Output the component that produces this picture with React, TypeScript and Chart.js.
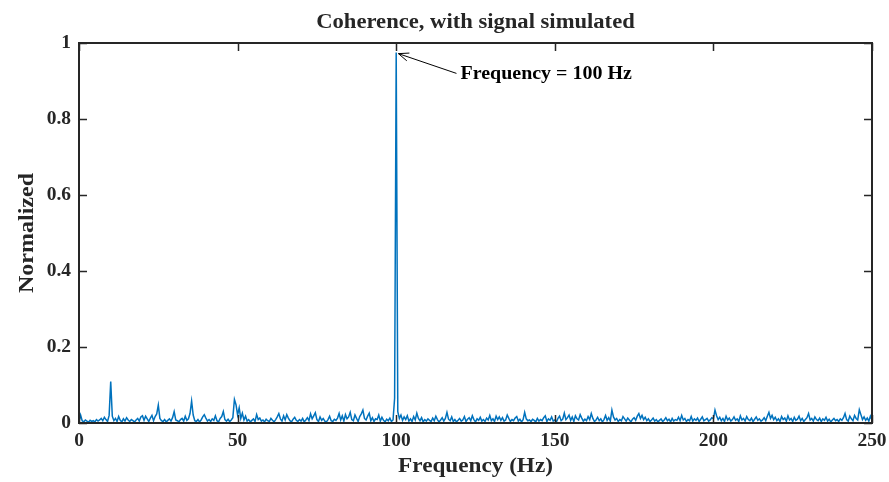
import React, { useEffect, useRef } from "react";
import { Chart, registerables } from "chart.js";

Chart.register(...registerables);

const TITLE = "Coherence, with signal simulated";
const X_LABEL = "Frequency (Hz)";
const Y_LABEL = "Normalized";
const X_TICKS = [0, 50, 100, 150, 200, 250];
const X_TICK_LABELS = ["0", "50", "100", "150", "200", "250"];
const Y_TICKS = [0, 0.2, 0.4, 0.6, 0.8, 1];
const Y_TICK_LABELS = ["0", "0.2", "0.4", "0.6", "0.8", "1"];
const FREQ_START = 0;
const FREQ_STEP = 0.5;

// coherence, one value per 0.5 Hz, 0 .. 250 Hz (rows of 10 Hz)
const COHERENCE = [
  0.004, 0.021, 0.006, 0.003, 0.008, 0.005, 0.002, 0.007, 0.004, 0.006, 0.003, 0.009, 0.005, 0.008, 0.012, 0.006, 0.015, 0.009, 0.004, 0.02,
  0.109, 0.018, 0.006, 0.012, 0.004, 0.017, 0.007, 0.003, 0.011, 0.005, 0.014, 0.008, 0.004, 0.009, 0.006, 0.003, 0.008, 0.012, 0.005, 0.016,
  0.019, 0.007, 0.018, 0.011, 0.004, 0.013, 0.02, 0.006, 0.017, 0.024, 0.047, 0.012, 0.006, 0.004, 0.009, 0.003, 0.007, 0.011, 0.005, 0.014,
  0.03, 0.008, 0.006, 0.003, 0.009, 0.012, 0.005, 0.018, 0.007, 0.011, 0.025, 0.058, 0.021, 0.006, 0.004, 0.009, 0.003, 0.008, 0.016, 0.022,
  0.013, 0.005, 0.009, 0.004, 0.011, 0.007, 0.019, 0.006, 0.003, 0.012, 0.017, 0.03, 0.009, 0.005, 0.01, 0.004, 0.008, 0.014, 0.062, 0.048,
  0.021, 0.04, 0.012, 0.026, 0.008, 0.018, 0.005, 0.009, 0.003, 0.007, 0.011, 0.004, 0.022, 0.009, 0.013, 0.005, 0.008, 0.003, 0.01, 0.006,
  0.004, 0.012, 0.007, 0.003, 0.009, 0.016, 0.025, 0.011, 0.005, 0.019, 0.008, 0.022, 0.013, 0.006, 0.003, 0.01, 0.015, 0.007, 0.004, 0.009,
  0.005, 0.012, 0.003, 0.008, 0.014, 0.006, 0.024, 0.011, 0.019, 0.027, 0.009, 0.004, 0.016, 0.007, 0.012, 0.005, 0.003, 0.009, 0.018, 0.006,
  0.004, 0.01, 0.007, 0.013, 0.025, 0.008, 0.019, 0.005, 0.022, 0.011, 0.016, 0.028, 0.009, 0.006, 0.021, 0.012, 0.004, 0.017, 0.024, 0.034,
  0.012, 0.008, 0.018, 0.026, 0.006, 0.014, 0.004, 0.011, 0.009, 0.021, 0.005, 0.015, 0.007, 0.003, 0.01, 0.006, 0.013, 0.004, 0.008, 0.065,
  0.975, 0.03, 0.012, 0.021, 0.007, 0.016, 0.009, 0.019, 0.005, 0.011, 0.004, 0.017, 0.008, 0.026, 0.012, 0.006, 0.014, 0.003, 0.009, 0.005,
  0.011, 0.007, 0.004, 0.013, 0.006, 0.018, 0.009, 0.003, 0.008, 0.014, 0.005, 0.012, 0.028, 0.01, 0.006, 0.016, 0.004, 0.009, 0.003, 0.007,
  0.012, 0.005, 0.008, 0.017, 0.004, 0.01, 0.014, 0.006, 0.019, 0.009, 0.003, 0.011, 0.007, 0.015, 0.005, 0.009, 0.004, 0.013, 0.008, 0.02,
  0.006, 0.011, 0.004, 0.018, 0.009, 0.016, 0.007, 0.014, 0.005, 0.008, 0.021, 0.012, 0.004, 0.009, 0.006, 0.013, 0.017, 0.005, 0.01, 0.003,
  0.009, 0.028, 0.011, 0.006, 0.008, 0.004, 0.01, 0.007, 0.003, 0.012, 0.005, 0.009, 0.006, 0.014, 0.019, 0.004, 0.011, 0.007, 0.016, 0.005,
  0.008, 0.003, 0.012, 0.018, 0.006, 0.01, 0.026, 0.009, 0.014, 0.021, 0.007, 0.016, 0.004, 0.019, 0.011, 0.008, 0.022, 0.013, 0.005, 0.01,
  0.006, 0.017, 0.009, 0.025, 0.012, 0.004, 0.008, 0.015, 0.006, 0.011, 0.003, 0.009, 0.02, 0.007, 0.014, 0.005, 0.034, 0.016, 0.008, 0.012,
  0.004, 0.009, 0.006, 0.017, 0.011, 0.005, 0.013, 0.008, 0.003, 0.01, 0.014, 0.007, 0.018, 0.025, 0.012, 0.02, 0.009, 0.015, 0.006, 0.011,
  0.004, 0.008, 0.013, 0.005, 0.009, 0.003, 0.007, 0.011, 0.004, 0.008, 0.014, 0.006, 0.01, 0.003, 0.012, 0.005, 0.009, 0.007, 0.015, 0.006,
  0.02, 0.008, 0.012, 0.004, 0.009, 0.006, 0.017, 0.005, 0.011, 0.007, 0.013, 0.004, 0.01, 0.016, 0.006, 0.009, 0.012, 0.005, 0.008, 0.014,
  0.011, 0.034, 0.019, 0.009, 0.015, 0.006, 0.012, 0.004, 0.018, 0.008, 0.013, 0.005, 0.009, 0.016, 0.007, 0.011, 0.004, 0.019, 0.008, 0.012,
  0.005, 0.017, 0.009, 0.006, 0.013, 0.004, 0.01, 0.016, 0.007, 0.011, 0.005, 0.008, 0.014, 0.006, 0.018, 0.028, 0.012, 0.02, 0.009, 0.015,
  0.006, 0.011, 0.004, 0.017, 0.009, 0.013, 0.005, 0.019, 0.008, 0.012, 0.004, 0.015, 0.007, 0.01, 0.018, 0.006, 0.012, 0.004, 0.009, 0.014,
  0.025, 0.008, 0.012, 0.005, 0.016, 0.009, 0.006, 0.013, 0.004, 0.011, 0.007, 0.015, 0.005, 0.01, 0.003, 0.008, 0.012, 0.006, 0.009, 0.004,
  0.011, 0.007, 0.014, 0.025, 0.009, 0.005, 0.018, 0.011, 0.006, 0.02, 0.012, 0.008, 0.035, 0.022, 0.009, 0.016, 0.007, 0.013, 0.005, 0.018,
  0.008,
];

const ANNOT_TEXT = "Frequency = 100 Hz";
const ANNOT_TIP = [100.7, 0.972];
const ANNOT_TAIL = [119.0, 0.92];

const FONT = '"Liberation Serif", "Times New Roman", serif';
const INK = "#262626";
const LINE_COLOR = "#0072BD";

function drawText(
  ctx: CanvasRenderingContext2D,
  text: string,
  x: number,
  y: number,
  size: number,
  stretch: number,
  align: CanvasTextAlign,
  rotate = 0
) {
  ctx.save();
  ctx.translate(x, y);
  if (rotate) ctx.rotate(rotate);
  ctx.scale(stretch, 1);
  ctx.font = `bold ${size}px ${FONT}`;
  ctx.textAlign = align;
  ctx.textBaseline = "middle";
  ctx.fillText(text, 0, 0);
  ctx.restore();
}

const framePlugin = {
  id: "matlabFrame",
  afterDraw(chart: any) {
    const { ctx, chartArea: a, scales } = chart;
    const xs = scales.x;
    const ys = scales.y;
    ctx.save();
    // box
    ctx.strokeStyle = INK;
    ctx.lineWidth = 2;
    ctx.strokeRect(a.left, a.top, a.right - a.left, a.bottom - a.top);
    // inward ticks
    ctx.lineWidth = 1.5;
    const tl = 8;
    ctx.beginPath();
    X_TICKS.forEach((v) => {
      const px = Math.round(xs.getPixelForValue(v)) + 0.5;
      ctx.moveTo(px, a.bottom);
      ctx.lineTo(px, a.bottom - tl);
      ctx.moveTo(px, a.top);
      ctx.lineTo(px, a.top + tl);
    });
    Y_TICKS.forEach((v) => {
      const py = Math.round(ys.getPixelForValue(v)) + 0.5;
      ctx.moveTo(a.left, py);
      ctx.lineTo(a.left + tl, py);
      ctx.moveTo(a.right, py);
      ctx.lineTo(a.right - tl, py);
    });
    ctx.stroke();

    ctx.fillStyle = INK;
    // tick labels
    X_TICKS.forEach((v, i) => {
      drawText(ctx, X_TICK_LABELS[i], xs.getPixelForValue(v), a.bottom + 18, 18, 1.08, "center");
    });
    Y_TICKS.forEach((v, i) => {
      drawText(ctx, Y_TICK_LABELS[i], a.left - 8, ys.getPixelForValue(v), 18, 1.08, "right");
    });

    // axis titles
    drawText(ctx, X_LABEL, (a.left + a.right) / 2, 467, 20, 1.16, "center");
    drawText(ctx, Y_LABEL, 28, (a.top + a.bottom) / 2, 20, 1.2, "center", -Math.PI / 2);

    // title
    drawText(ctx, TITLE, (a.left + a.right) / 2, 23, 20, 1.13, "center");

    // annotation arrow
    const tx = xs.getPixelForValue(ANNOT_TIP[0]);
    const ty = ys.getPixelForValue(ANNOT_TIP[1]);
    const sx = xs.getPixelForValue(ANNOT_TAIL[0]);
    const sy = ys.getPixelForValue(ANNOT_TAIL[1]);
    ctx.strokeStyle = "#000";
    ctx.lineWidth = 1;
    ctx.beginPath();
    ctx.moveTo(sx, sy);
    ctx.lineTo(tx, ty);
    const ang = Math.atan2(ty - sy, tx - sx);
    const hl = 11;
    const spread = 0.38;
    ctx.moveTo(tx, ty);
    ctx.lineTo(tx - hl * Math.cos(ang - spread), ty - hl * Math.sin(ang - spread));
    ctx.moveTo(tx, ty);
    ctx.lineTo(tx - hl * Math.cos(ang + spread), ty - hl * Math.sin(ang + spread));
    ctx.stroke();
    ctx.fillStyle = "#000";
    drawText(ctx, ANNOT_TEXT, sx + 4, sy + 1, 18, 1.11, "left");
    ctx.restore();
  },
};

export default function App() {
  const canvasRef = useRef<HTMLCanvasElement | null>(null);

  useEffect(() => {
    document.body.style.margin = "0";
    const canvas = canvasRef.current;
    if (!canvas) return;
    const points = COHERENCE.map((v, i) => ({ x: FREQ_START + i * FREQ_STEP, y: v }));
    const chart = new Chart(canvas, {
      type: "line",
      data: {
        datasets: [
          {
            label: "Coherence",
            data: points,
            borderColor: LINE_COLOR,
            borderWidth: 1.5,
            pointRadius: 0,
            fill: false,
            tension: 0,
          },
        ],
      },
      options: {
        animation: false,
        responsive: false,
        devicePixelRatio: 1,
        layout: { padding: { left: 79, right: 17, top: 43, bottom: 59 } },
        plugins: {
          legend: { display: false },
          tooltip: { enabled: false },
          title: { display: false },
        },
        scales: {
          x: { type: "linear", min: 0, max: 250, display: false },
          y: { type: "linear", min: 0, max: 1, display: false },
        },
      },
      plugins: [framePlugin],
    });
    return () => chart.destroy();
  }, []);

  return (
    <div style={{ width: 889, height: 482, background: "#fff" }}>
      <canvas ref={canvasRef} width={889} height={482} style={{ display: "block" }} />
    </div>
  );
}
